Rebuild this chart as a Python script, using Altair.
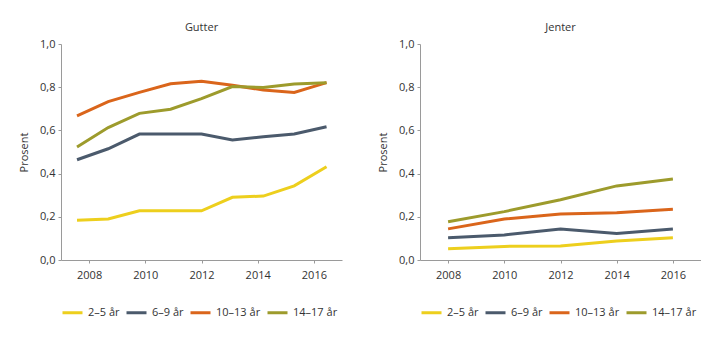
import altair as alt
import pandas as pd

age_groups = ["2–5 år", "6–9 år", "10–13 år", "14–17 år"]
colors = ["#EDCF1D", "#4B5A6C", "#DA651B", "#9D9B2C"]

gutter_years = [2007.57, 2008.68, 2009.79, 2010.9, 2012.0, 2013.1, 2014.2, 2015.3, 2016.45]
gutter_2_5 = [0.184, 0.190, 0.228, 0.228, 0.228, 0.290, 0.296, 0.343, 0.432]
gutter_6_9 = [0.464, 0.515, 0.583, 0.583, 0.583, 0.556, 0.571, 0.583, 0.617]
gutter_10_13 = [0.667, 0.733, 0.776, 0.816, 0.827, 0.809, 0.787, 0.776, 0.821]
gutter_14_17 = [0.523, 0.613, 0.679, 0.698, 0.747, 0.803, 0.799, 0.815, 0.821]

jenter_years = [2008, 2010, 2012, 2014, 2016]
jenter_2_5 = [0.052, 0.063, 0.065, 0.088, 0.103]
jenter_6_9 = [0.103, 0.116, 0.144, 0.123, 0.144]
jenter_10_13 = [0.144, 0.190, 0.213, 0.219, 0.235]
jenter_14_17 = [0.177, 0.224, 0.279, 0.343, 0.375]

x_ticks = [2008, 2010, 2012, 2014, 2016]
y_ticks = [0.0, 0.2, 0.4, 0.6, 0.8, 1.0]


def make_df(years, series):
    rows = []
    for gi, (g, vals) in enumerate(zip(age_groups, series)):
        for y, v in zip(years, vals):
            rows.append({"group": g, "gi": gi, "year": y, "value": v})
    return pd.DataFrame(rows)


df_g = make_df(gutter_years, [gutter_2_5, gutter_6_9, gutter_10_13, gutter_14_17])
df_j = make_df(jenter_years, [jenter_2_5, jenter_6_9, jenter_10_13, jenter_14_17])

FONT = "Open Sans"


def panel(df, title):
    return (
        alt.Chart(df, title=alt.Title(title, fontSize=11, fontWeight="normal", color="#333333", font=FONT, offset=5))
        .mark_line(strokeWidth=3)
        .encode(
            x=alt.X(
                "year:Q",
                scale=alt.Scale(domain=[2007, 2017], nice=False, zero=False),
                axis=alt.Axis(values=x_ticks, format="d", title=None, grid=False,
                              domainColor="#9a9a9a", tickColor="#9a9a9a", tickSize=3,
                              labelColor="#333333", labelFontSize=11, labelFont=FONT, labelPadding=6),
            ),
            y=alt.Y(
                "value:Q",
                scale=alt.Scale(domain=[0, 1], nice=False),
                axis=alt.Axis(values=y_ticks, title="Prosent", grid=False,
                              labelExpr="replace(format(datum.value, '.1f'), '.', ',')",
                              domainColor="#9a9a9a", tickColor="#9a9a9a", tickSize=3,
                              labelColor="#333333", labelFontSize=11, labelFont=FONT, labelPadding=3,
                              titleFontSize=11, titleFontWeight="normal", titleColor="#333333",
                              titleFont=FONT, titlePadding=10),
            ),
            color=alt.Color(
                "group:N",
                scale=alt.Scale(domain=age_groups, range=colors),
                sort=age_groups,
                legend=alt.Legend(orient="bottom", direction="horizontal", title=None,
                                  symbolType="stroke", symbolSize=400, symbolStrokeWidth=3,
                                  labelFontSize=11, labelFont=FONT, labelColor="#333333",
                                  labelOffset=4, columnPadding=0, gridAlign="each",
                                  padding=0, offset=21),
            ),
            order=alt.Order("gi:Q"),
            detail="group:N",
        )
        .properties(width=281, height=216)
    )


chart = (
    alt.hconcat(panel(df_g, "Gutter"), panel(df_j, "Jenter"), spacing=35)
    .resolve_scale(color="independent")
    .resolve_legend(color="independent")
    .properties(padding={"left": 18, "top": 22, "right": 0, "bottom": 0})
    .configure_view(stroke=None)
)

chart.save("out.html", embed_options={"renderer": "svg", "actions": False})
